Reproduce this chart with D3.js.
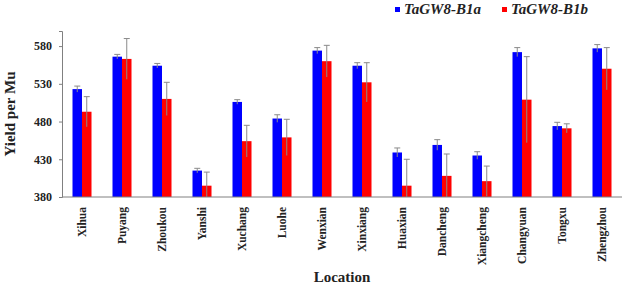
<!DOCTYPE html>
<html>
<head>
<meta charset="utf-8">
<script src="https://cdn.jsdelivr.net/npm/d3@7"></script>
<style>
  body { margin: 0; background: #fff; }
  text { font-family: "Liberation Serif", "Times New Roman", serif; font-weight: bold; }
</style>
</head>
<body>
<div id="chart-area"></div>
<script>
// data
var locations = ["Xihua", "Puyang", "Zhoukou", "Yanshi", "Xuchang", "Luohe", "Wenxian",
    "Xinxiang", "Huaxian", "Dancheng", "Xiangcheng", "Changyuan", "Tongxu", "Zhengzhou"];
var b1a = [523, 566, 554, 415, 506, 484, 574, 554, 439, 449, 435, 572, 474, 577];
var b1b = [493, 563, 510, 395, 454, 459, 560, 532, 395, 408, 401, 509, 471, 550];
var b1aErr = [4, 3, 3, 3, 3, 5, 4, 4, 6, 7, 5, 6, 5, 5];
var b1bErr = [20, 27, 22, 18, 21, 24, 21, 26, 35, 29, 20, 57, 6, 28];
var seriesNames = ["TaGW8-B1a", "TaGW8-B1b"];
var colors = ["#0000ff", "#ff0000"];
var yTicks = [380, 430, 480, 530, 580];

var width = 624, height = 289;
// plot area (note: "top" is reserved on window, so use other names)
var plotL = 62, plotR = 622, plotT = 31, plotB = 197;

var svg = d3.select("#chart-area").append("svg")
    .attr("width", width)
    .attr("height", height);

// keep whiskers above the x axis
svg.append("clipPath")
    .attr("id", "plot-clip")
    .append("rect")
    .attr("x", plotL)
    .attr("y", 0)
    .attr("width", plotR - plotL)
    .attr("height", plotB);

var xScale = d3.scaleBand()
    .domain(locations)
    .range([plotL, plotR]);

var xInner = d3.scaleBand()
    .domain(seriesNames)
    .range([xScale.bandwidth() / 2 - 9.5, xScale.bandwidth() / 2 + 9.5]);

var yScale = d3.scaleLinear()
    .domain([380, 600])
    .range([plotB, plotT]);

// rows for each bar
var rows = [];
locations.forEach(function(loc, i) {
    rows.push({loc: loc, s: seriesNames[0], v: b1a[i], e: b1aErr[i], c: colors[0]});
    rows.push({loc: loc, s: seriesNames[1], v: b1b[i], e: b1bErr[i], c: colors[1]});
});

//bars
svg.selectAll(".bar")
    .data(rows)
    .enter()
    .append("rect")
    .attr("x", d => xScale(d.loc) + xInner(d.s))
    .attr("y", d => yScale(d.v))
    .attr("width", xInner.bandwidth())
    .attr("height", d => plotB - yScale(d.v))
    .attr("fill", d => d.c);

//error bars
var eb = svg.append("g")
    .attr("clip-path", "url(#plot-clip)")
    .selectAll(".err")
    .data(rows)
    .enter()
    .append("g")
    .attr("stroke", "#8a8a8a")
    .attr("stroke-width", 1);

eb.append("line")
    .attr("x1", d => xScale(d.loc) + xInner(d.s) + xInner.bandwidth() / 2)
    .attr("x2", d => xScale(d.loc) + xInner(d.s) + xInner.bandwidth() / 2)
    .attr("y1", d => yScale(d.v - d.e))
    .attr("y2", d => yScale(d.v + d.e));

eb.append("line")
    .attr("x1", d => xScale(d.loc) + xInner(d.s) + xInner.bandwidth() / 2 - 3)
    .attr("x2", d => xScale(d.loc) + xInner(d.s) + xInner.bandwidth() / 2 + 3)
    .attr("y1", d => yScale(d.v + d.e))
    .attr("y2", d => yScale(d.v + d.e));

//y axis
var yAxis = d3.axisLeft(yScale).tickValues(yTicks).tickSize(3).tickPadding(7);
var gy = svg.append("g")
    .attr("transform", "translate(" + plotL + ",0)")
    .call(yAxis);
gy.select(".domain").attr("stroke", "#808080");
gy.selectAll(".tick line").attr("stroke", "#808080");
gy.selectAll("text")
    .style("font-size", "12px")
    .attr("fill", "#222");

//x axis
var xAxis = d3.axisBottom(xScale).tickSize(0).tickPadding(0);
var gx = svg.append("g")
    .attr("transform", "translate(0," + plotB + ")")
    .call(xAxis);
gx.select(".domain").attr("stroke", "#808080").attr("d", "M" + plotL + ",0H" + plotR);
gx.selectAll("text")
    .attr("transform", "rotate(-90)")
    .attr("x", -10)
    .attr("y", 0)
    .attr("dy", ".35em")
    .style("text-anchor", "end")
    .style("font-size", "11.5px")
    .attr("fill", "#222");

//axis titles
svg.append("text")
    .attr("transform", "translate(15," + ((plotT + plotB) / 2) + ") rotate(-90)")
    .attr("text-anchor", "middle")
    .style("font-size", "15px")
    .attr("fill", "#222")
    .text("Yield per Mu");

svg.append("text")
    .attr("x", (plotL + plotR) / 2)
    .attr("y", 282)
    .attr("text-anchor", "middle")
    .style("font-size", "15px")
    .attr("fill", "#222")
    .text("Location");

//legend
var legendX = [395, 502];
var lg = svg.selectAll(".legend")
    .data(seriesNames)
    .enter()
    .append("g")
    .attr("transform", (d, i) => "translate(" + legendX[i] + ",0)");

lg.append("rect")
    .attr("x", 0)
    .attr("y", 7)
    .attr("width", 5)
    .attr("height", 5)
    .attr("fill", (d, i) => colors[i]);

lg.append("text")
    .attr("x", 9)
    .attr("y", 14)
    .style("font-size", "15px")
    .style("font-style", "italic")
    .attr("fill", "#222")
    .text(d => d);
</script>
</body>
</html>
